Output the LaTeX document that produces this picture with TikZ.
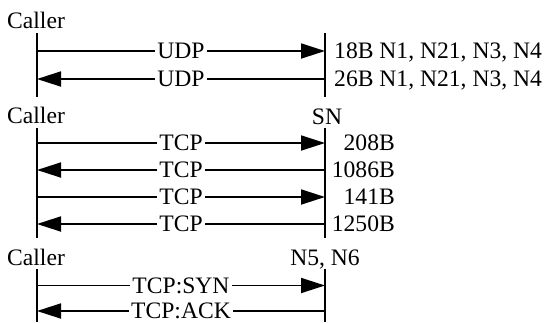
\documentclass[tikz,border=0pt]{standalone}
\usepackage{fontspec}
\setmainfont{Liberation Serif}
\usetikzlibrary{arrows.meta}
\begin{document}
\begin{tikzpicture}[x=1pt,y=-1pt,
  txt/.style={font=\fontsize{23.6}{26}\selectfont, inner sep=0pt},
  life/.style={line width=1.8pt},
  msg/.style={line width=1.8pt},
  tipr/.style={-{Triangle[length=24pt,width=15pt]}},
  tipl/.style={{Triangle[length=24pt,width=15pt]}-},
  lbl/.style={txt, fill=white, inner xsep=2pt, inner ysep=0pt}]
\useasboundingbox (0,0) rectangle (550,322);

% ---------- section 1 ----------
\node[txt, anchor=base west] (caller1) at (7,28) {Caller};
\coordinate (a1t) at (37,33); \coordinate (a1b) at (37,97);
\coordinate (b1t) at (325,33); \coordinate (b1b) at (325,97);
\draw[life] (a1t) -- (a1b);
\draw[life] (b1t) -- (b1b);
\coordinate (l11) at (37,51); \coordinate (r11) at (325,51);
\coordinate (l12) at (37,79); \coordinate (r12) at (325,79);
\draw[msg,tipr] (l11) -- node[lbl] (u1) {UDP} (r11);
\draw[msg,tipl] (l12) -- node[lbl] (u2) {UDP} (r12);
\node[txt, anchor=base west] (s11) at (334,58.8) {18B N1, N21, N3, N4};
\node[txt, anchor=base west] (s12) at (334,86.8) {26B N1, N21, N3, N4};

% ---------- section 2 ----------
\node[txt, anchor=base west] (caller2) at (7,123) {Caller};
\node[txt, anchor=base] (sn) at (327,124) {SN};
\coordinate (a2t) at (37,128); \coordinate (a2b) at (37,238);
\coordinate (b2t) at (325,128); \coordinate (b2b) at (325,238);
\draw[life] (a2t) -- (a2b);
\draw[life] (b2t) -- (b2b);
\coordinate (l21) at (37,143); \coordinate (r21) at (325,143);
\coordinate (l22) at (37,170); \coordinate (r22) at (325,170);
\coordinate (l23) at (37,197); \coordinate (r23) at (325,197);
\coordinate (l24) at (37,224); \coordinate (r24) at (325,224);
\draw[msg,tipr] (l21) -- node[lbl] (t1) {TCP} (r21);
\draw[msg,tipl] (l22) -- node[lbl] (t2) {TCP} (r22);
\draw[msg,tipr] (l23) -- node[lbl] (t3) {TCP} (r23);
\draw[msg,tipl] (l24) -- node[lbl] (t4) {TCP} (r24);
\node[txt, anchor=base east] (s21) at (395,150.8) {208B};
\node[txt, anchor=base east] (s22) at (395,177.8) {1086B};
\node[txt, anchor=base east] (s23) at (395,204.8) {141B};
\node[txt, anchor=base east] (s24) at (395,231.8) {1250B};

% ---------- section 3 ----------
\node[txt, anchor=base west] (caller3) at (7,265) {Caller};
\node[txt, anchor=base] (n56) at (325,265) {N5, N6};
\coordinate (a3t) at (37,269); \coordinate (a3b) at (37,322);
\coordinate (b3t) at (325,269); \coordinate (b3b) at (325,322);
\draw[life] (a3t) -- (a3b);
\draw[life] (b3t) -- (b3b);
\coordinate (l31) at (37,285.5); \coordinate (r31) at (325,285.5);
\coordinate (l32) at (37,311); \coordinate (r32) at (325,311);
\draw[msg,tipr] (l31) -- node[lbl] (syn) {TCP:SYN} (r31);
\draw[msg,tipl] (l32) -- node[lbl] (ack) {TCP:ACK} (r32);
\end{tikzpicture}
\end{document}
